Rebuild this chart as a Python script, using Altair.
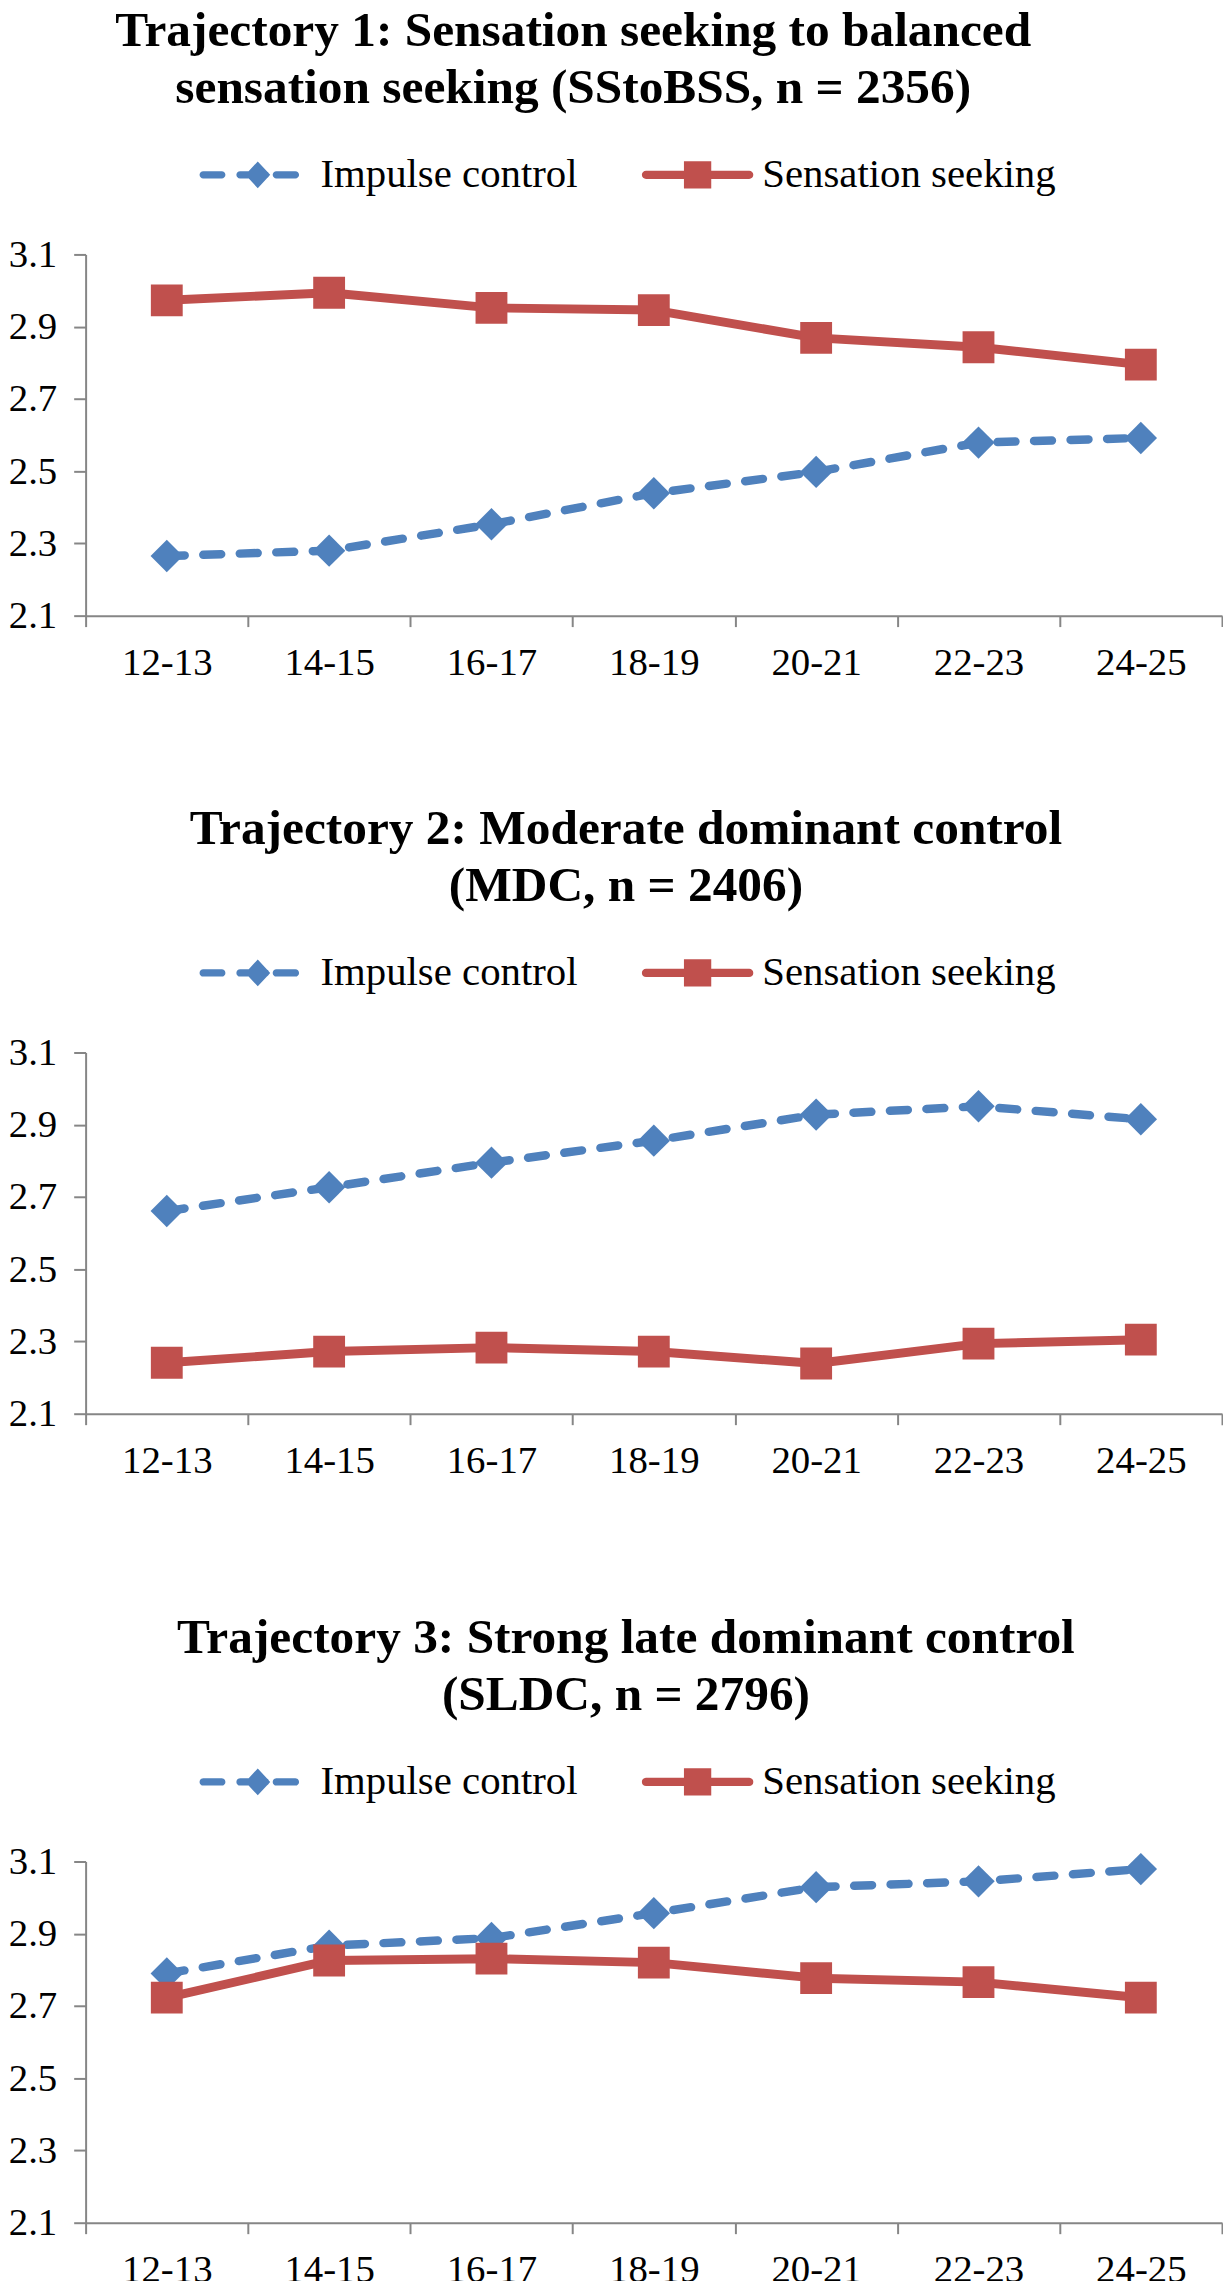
import altair as alt
import pandas as pd

# ---------------- data ----------------
ages = ["12-13", "14-15", "16-17", "18-19", "20-21", "22-23", "24-25"]
series = ["Impulse control", "Sensation seeking"]

t1_impulse = [2.265, 2.280, 2.353, 2.439, 2.498, 2.579, 2.592]
t1_sensation = [2.973, 2.994, 2.952, 2.946, 2.869, 2.843, 2.795]
t2_impulse = [2.661, 2.727, 2.795, 2.856, 2.928, 2.951, 2.915]
t2_sensation = [2.241, 2.272, 2.283, 2.272, 2.239, 2.294, 2.305]
t3_impulse = [2.790, 2.867, 2.888, 2.957, 3.029, 3.045, 3.079]
t3_sensation = [2.723, 2.826, 2.831, 2.820, 2.777, 2.766, 2.723]

titles = [
    ["Trajectory 1: Sensation seeking to balanced", "sensation seeking (SStoBSS, n = 2356)"],
    ["Trajectory 2: Moderate dominant control", "(MDC, n = 2406)"],
    ["Trajectory 3: Strong late dominant control", "(SLDC, n = 2796)"],
]
y_ticks = [2.1, 2.3, 2.5, 2.7, 2.9, 3.1]

# ---------------- style ----------------
BLUE = "#4F81BD"
RED = "#C0504D"
GRAY = "#868686"
FONT = "Liberation Serif"
W, H = 1142, 363


def capsule(x1, x2, r):
    return (f"M{x1 + r},{-r}H{x2 - r}A{r},{r} 0 0 1 {x2 - r},{r}"
            f"H{x1 + r}A{r},{r} 0 0 1 {x1 + r},{-r}Z")


# legend symbols: dashed line with diamond / solid line with square
BLUE_SYM = (capsule(-1.0, -0.48, 0.074) + capsule(-0.26, 0.40, 0.074)
            + capsule(0.47, 1.0, 0.074)
            + "M-0.08,0L0.17,-0.27L0.42,0L0.17,0.27Z")
RED_SYM = capsule(-1.0, 1.0, 0.075) + "M-0.245,-0.245H0.245V0.245H-0.245Z"


def panel(imp, sen, title, dx):
    df = pd.DataFrame({
        "age": ages * 2,
        "series": [series[0]] * len(ages) + [series[1]] * len(ages),
        "value": imp + sen,
    })
    base = alt.Chart(df)
    x = alt.X("age:N", sort=ages,
              scale=alt.Scale(type="band", paddingInner=0, paddingOuter=0),
              axis=alt.Axis(title=None, labelAngle=0, tickBand="extent",
                            tickSize=11, labelPadding=17))
    y = alt.Y("value:Q",
              scale=alt.Scale(domain=[2.1, 3.1], zero=False, nice=False),
              axis=alt.Axis(title=None, values=y_ticks, format=".1f",
                            tickSize=12, labelPadding=17))
    imp_base = base.transform_filter(alt.datum.series == series[0])
    sen_base = base.transform_filter(alt.datum.series == series[1])

    blue_line = imp_base.mark_line(
        color=BLUE, strokeWidth=8.5, strokeDash=[18, 18.7],
        strokeCap="round", strokeJoin="round").encode(x=x, y=y)
    blue_pts = imp_base.mark_point(
        filled=True, opacity=1, shape="diamond", size=1060).encode(
        x=x, y=y,
        fill=alt.Fill("series:N",
                      scale=alt.Scale(domain=[series[0]], range=[BLUE]),
                      legend=alt.Legend(
                          orient="none", legendX=114.5, legendY=-130,
                          title=None, symbolType=BLUE_SYM, symbolSize=10000,
                          symbolStrokeWidth=0, labelFont=FONT,
                          labelFontSize=41, labelColor="black",
                          labelOffset=21.5, labelLimit=600, padding=0)))
    red_line = sen_base.mark_line(
        color=RED, strokeWidth=9, strokeCap="round",
        strokeJoin="round").encode(x=x, y=y)
    red_pts = sen_base.mark_point(
        filled=True, opacity=1, shape="square", size=1024).encode(
        x=x, y=y,
        fill=alt.Fill("series:N",
                      scale=alt.Scale(domain=[series[1]], range=[RED]),
                      legend=alt.Legend(
                          orient="none", legendX=559, legendY=-136,
                          title=None, symbolType=RED_SYM, symbolSize=12544,
                          symbolStrokeWidth=0, labelFont=FONT,
                          labelFontSize=41, labelColor="black",
                          labelOffset=9, labelLimit=600, padding=0)))

    return alt.layer(blue_line, blue_pts, red_line, red_pts).resolve_scale(
        fill="independent").properties(
        width=W, height=H,
        title=alt.TitleParams(text=title, font=FONT, fontSize=49.6,
                              fontWeight="bold", color="black",
                              anchor="middle", frame="group", dx=dx,
                              lineHeight=57, offset=6))


p1 = panel(t1_impulse, t1_sensation, titles[0], -81)
p2 = panel(t2_impulse, t2_sensation, titles[1], -28)
p3 = panel(t3_impulse, t3_sensation, titles[2], -28)

lower = alt.vconcat(p2, p3, spacing=133)
chart = alt.vconcat(p1, lower, spacing=122).properties(
    padding={"left": 0, "top": -8, "right": 0, "bottom": 0}
).configure_view(stroke=None).configure_axis(
    grid=False, domainColor=GRAY, tickColor=GRAY, domainWidth=2,
    tickWidth=2, labelFont=FONT, labelFontSize=39, labelColor="black"
)

chart.save("out.html", embed_options={"renderer": "svg", "actions": False})
